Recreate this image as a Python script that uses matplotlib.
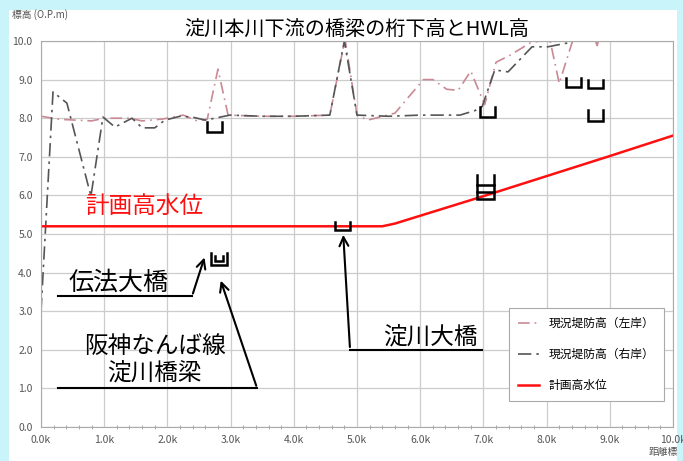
import matplotlib
matplotlib.use("Agg")
import matplotlib.pyplot as plt
from matplotlib.patches import Rectangle
import numpy as np

plt.rcParams['font.family'] = ['Noto Sans CJK JP', 'DejaVu Sans']

# 現況堤防高（左岸）
left_km = [0.0, 0.3, 0.8, 1.0, 1.4, 1.6, 1.93, 2.25, 2.47, 2.63, 2.8, 2.96, 3.5, 4.0, 4.57,
           4.81, 5.0, 5.17, 5.6, 6.05, 6.2, 6.42, 6.6, 6.8, 7.02, 7.2, 7.42, 7.74, 8.05, 8.2,
           8.42, 8.7, 8.8, 8.9, 10.0]
left_h = [8.05, 7.97, 7.93, 8.0, 8.0, 7.93, 7.98, 8.08, 7.93, 7.97, 9.27, 8.08, 8.05, 8.05, 8.08,
          10.05, 8.08, 7.95, 8.13, 9.0, 9.0, 8.75, 8.72, 9.22, 8.35, 9.45, 9.63, 9.95, 10.05, 8.9,
          10.05, 10.3, 9.88, 10.5, 11.0]

# 現況堤防高（右岸）
right_km = [0.0, 0.19, 0.41, 0.79, 0.98, 1.17, 1.44, 1.6, 1.8, 1.96, 2.2, 2.39, 2.6, 2.99, 3.5,
            4.0, 4.57, 4.8, 5.0, 5.5, 6.0, 6.63, 6.87, 6.98, 7.18, 7.39, 7.77, 8.02, 8.4, 8.6, 10.0]
right_h = [3.0, 8.68, 8.39, 5.98, 8.03, 7.77, 8.0, 7.75, 7.75, 7.95, 8.05, 8.03, 7.95, 8.08, 8.05,
           8.05, 8.08, 10.0, 8.08, 8.05, 8.08, 8.08, 8.2, 8.3, 9.25, 9.2, 9.85, 9.85, 9.97, 10.3, 10.8]

# 計画高水位
hwl_km = [0.0, 5.4, 5.6, 7.0, 8.0, 9.0, 10.0]
hwl_h = [5.2, 5.2, 5.27, 5.98, 6.5, 7.02, 7.55]

# 橋梁の桁下高 (位置, 上端, 下端)
bridge_km = [2.74, 7.06, 8.42, 8.77, 8.77, 4.77, 7.03, 7.03, 2.82, 2.82]
bridge_top = [7.9, 8.3, 9.04, 9.0, 8.2, 5.31, 6.53, 6.27, 4.5, 4.42]
bridge_bot = [7.65, 8.03, 8.8, 8.77, 7.93, 5.1, 6.27, 5.91, 4.2, 4.3]
bridge_w = [0.12, 0.12, 0.12, 0.12, 0.12, 0.12, 0.13, 0.13, 0.13, 0.06]

fig = plt.figure(figsize=(6.83, 4.61), dpi=100)
fig.patch.set_facecolor('#c8f4fa')
fig.patches.append(Rectangle((9 / 683, 0), 668 / 683, 451 / 461, transform=fig.transFigure,
                             facecolor='white', edgecolor='none', zorder=-10))

ax = fig.add_axes([41 / 683, 34 / 461, 632 / 683, 386 / 461])
ax.set_zorder(1)
ax.set_facecolor('white')

ax.plot(left_km, left_h, color='#c98a95', lw=1.2, dashes=(7, 3, 1, 3), label='現況堤防高（左岸）')
ax.plot(right_km, right_h, color='#555555', lw=1.2, dashes=(8, 3, 1.5, 3), label='現況堤防高（右岸）')
ax.plot(hwl_km, hwl_h, color='#ff1010', lw=1.8, label='計画高水位')

for x, t, b, w in zip(bridge_km, bridge_top, bridge_bot, bridge_w):
    ax.plot([x - w, x - w, x + w, x + w], [t, b, b, t], color='black', lw=1.8,
            solid_joinstyle='miter', zorder=5)
# 7.0k の桁の中段
ax.plot([7.03 - 0.13, 7.03 + 0.13], [6.09, 6.09], color='black', lw=1.8, zorder=5)

ax.set_xlim(0, 10)
ax.set_ylim(0, 10)
ax.set_xticks(np.arange(0, 11, 1))
ax.set_xticklabels([f"{v:.1f}k" for v in range(11)])
ax.set_yticks(np.arange(0, 11, 1))
ax.set_yticklabels([f"{v:.1f}" for v in range(11)])
ax.set_xticks(np.arange(0, 10.01, 0.2), minor=True)
ax.tick_params(axis='both', which='major', length=0, labelsize=7.5, labelcolor='#555555', pad=6)
ax.tick_params(axis='x', which='minor', length=3, direction='inout', color='#999999')
ax.grid(True, color='#cccccc', lw=0.9)
ax.set_axisbelow(True)
for s in ax.spines.values():
    s.set_color('#aaaaaa')

ax.set_title('淀川本川下流の橋梁の桁下高とHWL高', fontsize=14.5, pad=4)
fig.text(0.018, 0.962, '標高 (O.P.m)', fontsize=7, color='#555555')
fig.text(0.950, 0.012, '距離標', fontsize=7, color='#555555')

leg = ax.legend(loc='lower left', bbox_to_anchor=(0.74, 0.067), fontsize=8.5, fancybox=False,
                edgecolor='#aaaaaa', framealpha=1, labelspacing=1.5, handlelength=1.8,
                borderpad=0.8, borderaxespad=0)
leg.get_frame().set_linewidth(0.8)

# 注記
ax.text(0.7, 5.72, '計画高水位', color='#ff1010', fontsize=17, va='center', ha='left')

ax.text(0.43, 3.73, '伝法大橋', fontsize=18, va='center', ha='left')
ax.plot([0.27, 2.39], [3.39, 3.39], color='black', lw=1.5)
ax.annotate('', xy=(2.6, 4.46), xytext=(2.39, 3.39),
            arrowprops=dict(arrowstyle='->', color='black', lw=1.5, mutation_scale=16))

ax.text(1.8, 1.72, '阪神なんば線\n淀川橋梁', fontsize=17, va='center', ha='center',
        linespacing=1.25)
ax.plot([0.27, 3.42], [1.0, 1.0], color='black', lw=1.5)
ax.annotate('', xy=(2.83, 3.86), xytext=(3.42, 1.0),
            arrowprops=dict(arrowstyle='->', color='black', lw=1.5, mutation_scale=16))

ax.text(5.41, 2.3, '淀川大橋', fontsize=17, va='center', ha='left')
ax.plot([4.89, 6.98], [2.0, 2.0], color='black', lw=1.5)
ax.annotate('', xy=(4.78, 5.05), xytext=(4.89, 2.0),
            arrowprops=dict(arrowstyle='->', color='black', lw=1.5, mutation_scale=16))

fig.savefig('out.png', dpi=100)
